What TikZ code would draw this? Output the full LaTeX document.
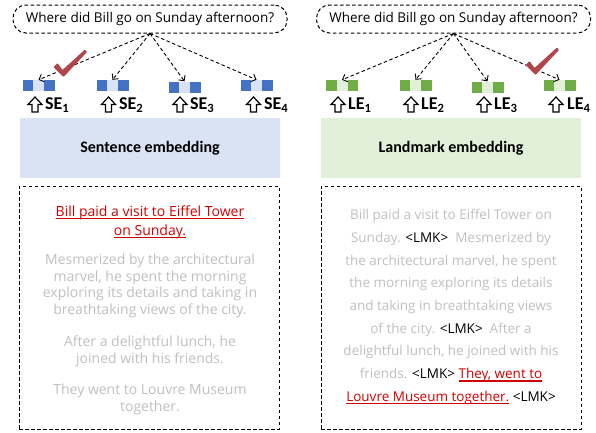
\documentclass[tikz,border=0pt]{standalone}
\usepackage{fontspec}
\setmainfont{Open Sans}
\newfontfamily\calib{Carlito}
\usetikzlibrary{arrows.meta}
\definecolor{sedark}{HTML}{4472C4}
\definecolor{selight}{HTML}{DAE3F3}
\definecolor{ledark}{HTML}{70AD47}
\definecolor{lelight}{HTML}{E2F0D9}
\definecolor{chk}{HTML}{B0454A}
\definecolor{redtxt}{HTML}{D00000}
\definecolor{graytxt}{HTML}{BFBFBF}
\newcommand\redul[1]{\setbox0\hbox{#1}\leavevmode\rlap{\raisebox{-3pt}{\rule{\wd0}{1.3pt}}}\box0}
\newcommand\lmk{\textcolor{black}{<LMK>}}
\begin{document}
\begin{tikzpicture}[x=1pt,y=-1pt,
  bubble/.style={draw, dash pattern=on 3.5pt off 2.5pt, line width=1pt, rounded corners=13pt,
    minimum width=274pt, minimum height=28pt, inner sep=0pt, font=\fontsize{13.5}{15}\selectfont},
  qarrow/.style={dash pattern=on 3.5pt off 2.5pt, line width=0.9pt,
    -{Straight Barb[length=4pt,width=8pt,line width=0.9pt]}},
  emb/.style 2 args={minimum width=32pt, minimum height=11pt, inner sep=0pt, fill=#1,
    path picture={\fill[#2] ([xshift=-5.5pt]path picture bounding box.north) rectangle ([xshift=5.5pt]path picture bounding box.south);}},
  elabel/.style={anchor=west, inner sep=0pt, font=\calib\bfseries\fontsize{18}{20}\selectfont},
  bigbox/.style={minimum width=260pt, minimum height=60pt, inner sep=0pt, font=\calib\bfseries\fontsize{16}{18}\selectfont},
  txtbox/.style={draw, dash pattern=on 3.5pt off 2.5pt, line width=1pt, minimum width=260pt, minimum height=243pt, inner sep=0pt},
  para/.style={align=center, inner sep=0pt, text=graytxt},
  uparr/.pic={\draw[line width=1.2pt, fill=white, line join=miter] (-3,0) -- (3,0) -- (3,-7.5) -- (7,-7.5) -- (0,-15) -- (-7,-7.5) -- (-3,-7.5) -- cycle;},
  tick/.pic={\fill[chk, rounded corners=0.8pt] (-9.5,-10) -- (-5.5,-14) -- (-0.5,-7) -- (22,-27.5) -- (24,-25) -- (0.5,0) -- cycle;}
]
\useasboundingbox (0,0) rectangle (596,432);

% ---------------- left panel ----------------
\node[bubble] (q1) at (150,19) {Where did Bill go on Sunday afternoon?};
\node[emb={sedark}{selight}] (s1) at (38.5,85.5) {};
\node[emb={sedark}{selight}] (s2) at (112.5,85.5) {};
\node[emb={sedark}{selight}] (s3) at (184.5,87) {};
\node[emb={sedark}{selight}] (s4) at (256.5,85.5) {};
\foreach \i in {1,...,4} \draw[qarrow] (q1.south) -- (s\i.north);
\pic at (63,77) {tick};
\pic at (35,112) {uparr};
\pic at (108.5,112) {uparr};
\pic at (180,112) {uparr};
\pic at (253.5,112) {uparr};
\node[elabel] (ls1) at (45,105) {SE\textsubscript{1}};
\node[elabel] (ls2) at (119,105) {SE\textsubscript{2}};
\node[elabel] (ls3) at (190,105) {SE\textsubscript{3}};
\node[elabel] (ls4) at (264,105) {SE\textsubscript{4}};
\node[bigbox, fill=selight] (se) at (150,148) {Sentence embedding};
\node[txtbox] (lb) at (149,307.5) {};
\node[para, text=redtxt, font=\fontsize{14}{19}\selectfont] (lp1) at (150,222) {\redul{Bill paid a visit to Eiffel Tower}\\\redul{on Sunday.}};
\node[para, font=\fontsize{14}{16.7}\selectfont] (lp2) at (150,286) {Mesmerized by the architectural\\marvel, he spent the morning\\exploring its details and taking in\\breathtaking views of the city.};
\node[para, font=\fontsize{14}{16.7}\selectfont] (lp3) at (150,351.5) {After a delightful lunch, he\\joined with his friends.};
\node[para, font=\fontsize{14}{16.7}\selectfont] (lp4) at (150,399.5) {They went to Louvre Museum\\together.};

% ---------------- right panel ----------------
\node[bubble] (q2) at (453.5,19) {Where did Bill go on Sunday afternoon?};
\node[emb={ledark}{lelight}] (l1) at (342,85.5) {};
\node[emb={ledark}{lelight}] (l2) at (415.5,85.5) {};
\node[emb={ledark}{lelight}] (l3) at (487.5,87) {};
\node[emb={ledark}{lelight}] (l4) at (559.5,85.5) {};
\foreach \i in {1,...,4} \draw[qarrow] (q2.south) -- (l\i.north);
\pic at (535,75) {tick};
\pic at (338,112) {uparr};
\pic at (411,112) {uparr};
\pic at (484,112) {uparr};
\pic at (556,112) {uparr};
\node[elabel] (ll1) at (348,105) {LE\textsubscript{1}};
\node[elabel] (ll2) at (421,105) {LE\textsubscript{2}};
\node[elabel] (ll3) at (494,105) {LE\textsubscript{3}};
\node[elabel] (ll4) at (567,105) {LE\textsubscript{4}};
\node[bigbox, fill=lelight] (le) at (451,148) {Landmark embedding};
\node[txtbox] (rb) at (451,307.5) {};
\node[para, font=\fontsize{13.5}{22.7}\selectfont] (rp) at (451,307) {Bill paid a visit to Eiffel Tower on\\
Sunday. \lmk\ \ Mesmerized by\\
the architectural marvel, he spent\\
the morning exploring its details\\
and taking in breathtaking views\\
of the city. \lmk\ \ After a\\
delightful lunch, he joined with his\\
friends. \lmk\ \textcolor{redtxt}{\redul{They, went to}}\\
\textcolor{redtxt}{\redul{Louvre Museum together.}} \lmk};
\end{tikzpicture}
\end{document}
